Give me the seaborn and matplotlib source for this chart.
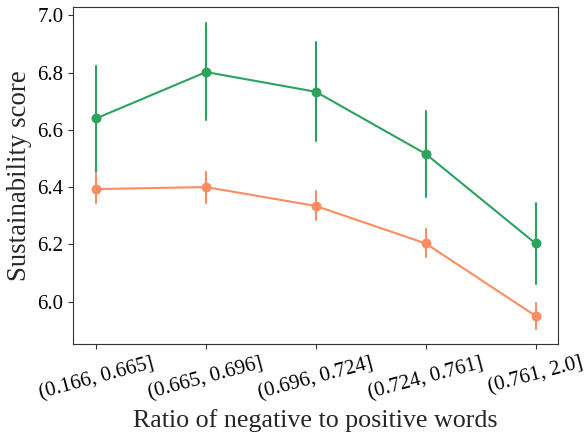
import matplotlib
matplotlib.use("Agg")
import matplotlib.pyplot as plt
import seaborn as sns
import pandas as pd

categories = ["(0.166, 0.665]", "(0.665, 0.696]", "(0.696, 0.724]", "(0.724, 0.761]", "(0.761, 2.0]"]

green_mean = [6.640, 6.802, 6.733, 6.516, 6.203]
green_low = [6.453, 6.634, 6.562, 6.366, 6.063]
green_high = [6.824, 6.972, 6.906, 6.665, 6.343]

orange_mean = [6.393, 6.400, 6.334, 6.203, 5.950]
orange_low = [6.343, 6.346, 6.284, 6.154, 5.905]
orange_high = [6.445, 6.451, 6.387, 6.254, 5.996]

series_names = ["green", "orange"]
colors = {"green": "#2ca25f", "orange": "#fc8d62"}

rows = []
for name, lo, mid, hi in [("green", green_low, green_mean, green_high),
                          ("orange", orange_low, orange_mean, orange_high)]:
    for c, a, m, b in zip(categories, lo, mid, hi):
        for v in (a, m, b):
            rows.append({"cat": c, "val": v, "series": name})
df = pd.DataFrame(rows)

sns.set_style("ticks")
plt.rcParams["font.family"] = ["Liberation Serif", "DejaVu Serif"]

fig, ax = plt.subplots(figsize=(5.85, 4.34), dpi=100)
sns.pointplot(data=df, x="cat", y="val", hue="series", order=categories,
              hue_order=series_names, palette=colors, estimator="median",
              errorbar=("pi", 100), markers="o", linestyles="-",
              linewidth=1.5, markersize=6, err_kws={"linewidth": 1.5},
              legend=False, ax=ax)

ax.set_ylim(5.851, 7.028)
ax.set_xlim(-0.21, 4.2)
ax.set_yticks([6.0, 6.2, 6.4, 6.6, 6.8, 7.0])
ax.set_yticklabels(["6.0", "6.2", "6.4", "6.6", "6.8", "7.0"], fontsize=15)
ax.set_xticks(range(len(categories)))
ax.set_xticklabels(categories, rotation=15, ha="center", fontsize=15)
ax.set_xlabel("Ratio of negative to positive words", fontsize=18.7)
ax.set_ylabel("Sustainability score", fontsize=19.3)
for s in ax.spines.values():
    s.set_visible(True)
    s.set_color("#333333")
ax.tick_params(colors="#333333", labelcolor="black")

fig.subplots_adjust(left=0.125, right=0.953, top=0.983, bottom=0.207)
fig.savefig("out.png", dpi=100)
